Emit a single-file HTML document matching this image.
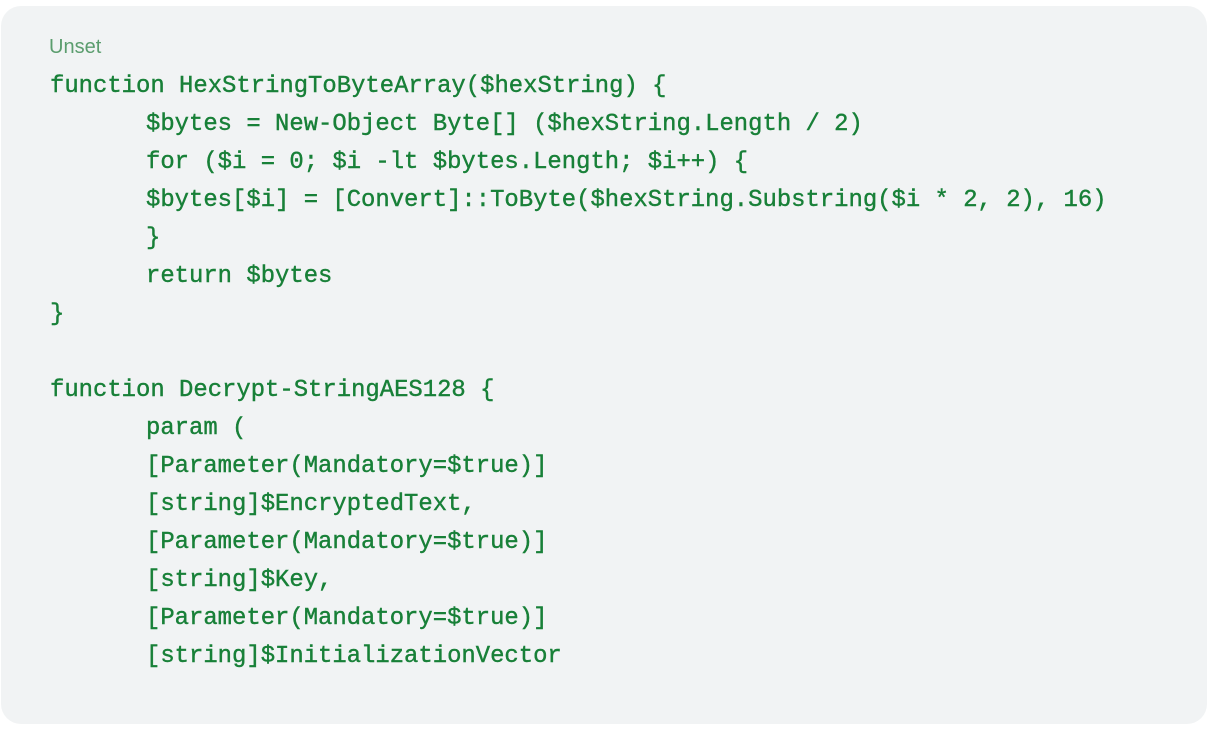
<!DOCTYPE html>
<html><head><style>
body{margin:0;background:#fff;width:1212px;height:732px;overflow:hidden}
.box{position:absolute;left:1px;top:6px;width:1206px;height:718px;background:#f1f3f4;border-radius:20px}
.u{position:absolute;left:49px;top:36px;font:20px "Liberation Sans",sans-serif;color:#5b9d6e}
pre{position:absolute;left:50px;top:68px;margin:0;font:23.9px/38px "Liberation Mono",monospace;color:#188038;-webkit-text-stroke:0.4px #188038}
.i{padding-left:96px}
</style></head><body>
<div class="box"></div>
<div class="u">Unset</div>
<pre>function HexStringToByteArray($hexString) {
<span class="i">$bytes = New-Object Byte[] ($hexString.Length / 2)</span>
<span class="i">for ($i = 0; $i -lt $bytes.Length; $i++) {</span>
<span class="i">$bytes[$i] = [Convert]::ToByte($hexString.Substring($i * 2, 2), 16)</span>
<span class="i">}</span>
<span class="i">return $bytes</span>
}

function Decrypt-StringAES128 {
<span class="i">param (</span>
<span class="i">[Parameter(Mandatory=$true)]</span>
<span class="i">[string]$EncryptedText,</span>
<span class="i">[Parameter(Mandatory=$true)]</span>
<span class="i">[string]$Key,</span>
<span class="i">[Parameter(Mandatory=$true)]</span>
<span class="i">[string]$InitializationVector</span></pre>
</body></html>
